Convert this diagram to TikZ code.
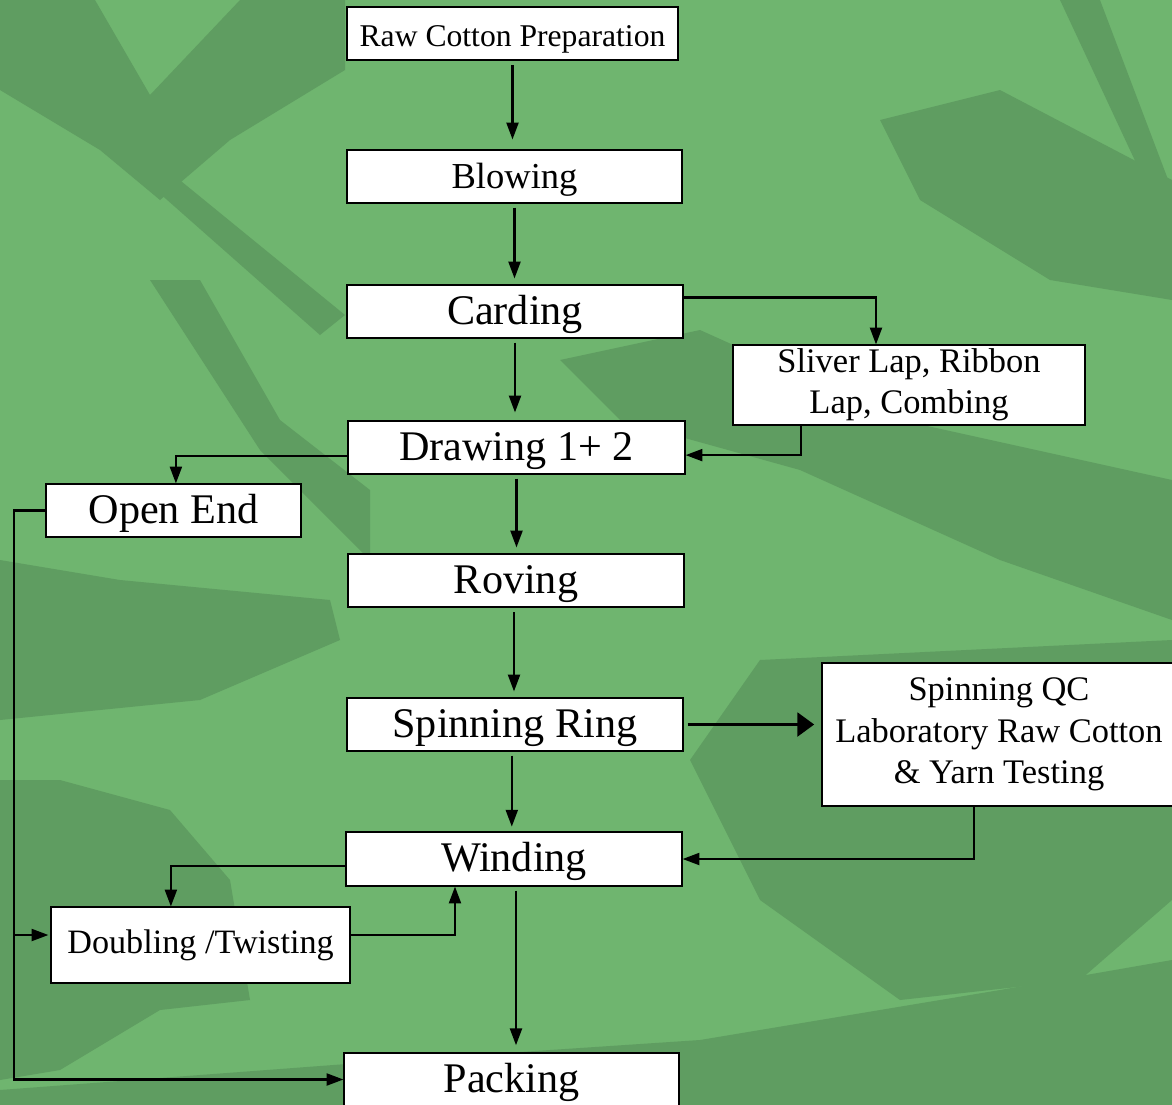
\documentclass[tikz,border=0pt]{standalone}
\usepackage{fontspec}
\setmainfont{Liberation Serif}
\usetikzlibrary{arrows.meta, positioning, calc}
\definecolor{leaflight}{RGB}{111,181,111}
\definecolor{leafdark}{RGB}{95,157,97}

\begin{document}
\begin{tikzpicture}[
		x=0.025cm, y=-0.025cm,
		stepbox/.style={draw=black, fill=white, line width=0.8pt, minimum height=1.325cm,
			minimum width=8.4cm, inner sep=0pt, text height=21pt, text depth=3pt,
			font=\fontsize{30}{36}\selectfont},
		sidebox/.style={draw=black, fill=white, line width=0.8pt, inner sep=0pt, align=center,
			font=\fontsize{24.5}{29.5}\selectfont},
		flow/.style={-{Triangle[length=0.42cm, width=0.3cm]}, line width=1.5pt},
		bigflow/.style={-{Triangle[length=0.42cm, width=0.6cm]}, line width=1.5pt},
		leaf/.style={fill=leafdark, draw=none}
		]
		
		% === BACKGROUND ===
		\useasboundingbox (0,0) rectangle (1172,1105);
		\fill[leaflight] (0,0) rectangle (1172,1105);
		\fill[leaf] (0,0) -- (95,0) -- (150,95) -- (240,0) -- (345,0) -- (345,70) -- (230,140)
		-- (160,200) -- (100,150) -- (0,90) -- cycle;
		\fill[leaf] (20,70) -- (45,70) -- (345,315) -- (320,335) -- cycle;
		\fill[leaf] (150,280) -- (200,280) -- (280,420) -- (370,490) -- (370,560) -- (260,450) -- cycle;
		\fill[leaf] (0,560) -- (120,580) -- (330,600) -- (340,640) -- (200,700) -- (0,720) -- cycle;
		\fill[leaf] (0,780) -- (60,780) -- (170,810) -- (230,880) -- (250,1000) -- (160,1010)
		-- (60,1070) -- (0,1080) -- cycle;
		\fill[leaf] (560,360) -- (700,330) -- (900,420) -- (1172,480) -- (1172,620) -- (1000,560)
		-- (800,470) -- (620,420) -- cycle;
		\fill[leaf] (880,120) -- (1000,90) -- (1172,180) -- (1172,300) -- (1050,280) -- (920,200) -- cycle;
		\fill[leaf] (1060,0) -- (1100,0) -- (1172,190) -- (1172,240) -- cycle;
		\fill[leaf] (690,760) -- (760,660) -- (1172,640) -- (1172,900) -- (1080,980) -- (900,1000)
		-- (760,900) -- cycle;
		\fill[leaf] (0,1090) -- (400,1060) -- (700,1040) -- (1000,990) -- (1172,960) -- (1172,1105)
		-- (0,1105) -- cycle;
		
		% === MAIN LINE ===
		\node[stepbox, minimum width=8.275cm, text height=19pt, text depth=0pt,
		font=\fontsize{22.5}{27}\selectfont] (raw) at (512.5,33.5) {Raw Cotton Preparation};
		\node[stepbox, minimum width=8.375cm, text height=18pt, text depth=1.6pt,
		font=\fontsize{26}{31}\selectfont] (blow) at (514.5,176.5) {Blowing};
		\node[stepbox] (card) at (515,311.5) {Carding};
		\node[stepbox, minimum width=8.425cm] (draw) at (516.5,447.5) {Drawing 1+ 2};
		\node[stepbox] (roving) at (516,580.5) {Roving};
		\node[stepbox] (spin) at (515,724.5) {Spinning Ring};
		\node[stepbox, minimum height=1.35cm] (wind) at (514,859) {Winding};
		\node[stepbox, minimum width=8.375cm] (pack) at (511.5,1079.5) {Packing};
		
		% === SIDE BOXES ===
		\node[sidebox, minimum width=8.8cm, minimum height=2cm] (sliver) at (909,385) {Sliver Lap, Ribbon\\Lap, Combing};
		\node[stepbox, minimum width=6.375cm] (open) at (173.5,510.5) {Open End};
		\node[sidebox, minimum width=8.85cm, minimum height=3.575cm] (qc) at (999,734.5) {Spinning QC\\Laboratory Raw Cotton\\\& Yarn Testing};
		\node[sidebox, minimum width=7.475cm, minimum height=1.9cm, font=\fontsize{24.3}{29}\selectfont] (dbl) at (200.5,945) {Doubling /Twisting};
		
		% === DOWNWARD FLOW ===
		\draw[flow, shorten <=0.12cm, shorten >=0.25cm] (raw.south) -- (raw.south |- blow.north);
		\draw[flow, shorten <=0.1cm, shorten >=0.15cm] (blow.south) -- (blow.south |- card.north);
		\draw[flow, shorten <=0.1cm, shorten >=0.2cm] (card.south) -- (card.south |- draw.north);
		\draw[flow, shorten <=0.1cm, shorten >=0.15cm] (draw.south) -- (draw.south |- roving.north);
		\draw[flow, shorten <=0.12cm, shorten >=0.15cm] ([xshift=-0.05cm]roving.south) -- ([xshift=-0.05cm]roving.south |- spin.north);
		\draw[flow, shorten <=0.1cm, shorten >=0.12cm] ([xshift=-0.08cm]spin.south) -- ([xshift=-0.08cm]spin.south |- wind.north);
		\draw[flow, shorten <=0.1cm, shorten >=0.18cm] ([xshift=0.05cm]wind.south) -- ([xshift=0.05cm]wind.south |- pack.north);
		
		% === BRANCHES ===
		\draw[flow] ([yshift=0.35cm]card.east) -| ([xshift=-0.825cm]sliver.north);
		\draw[flow] ([xshift=-2.7cm]sliver.south) |- ([yshift=-0.19cm]draw.east);
		\draw[flow] ([yshift=-0.21cm]draw.west) -| ([xshift=0.06cm]open.north);
		\draw[bigflow, shorten <=0.1cm, shorten >=0.18cm] (spin.east) -- (spin.east -| qc.west);
		\draw[flow] ([xshift=-0.625cm]qc.south) |- (wind.east);
		\draw[flow] ([yshift=-0.18cm]wind.west) -| ([xshift=-0.74cm]dbl.north);
		\draw[flow] ([yshift=0.25cm]dbl.east) -| ([xshift=-1.475cm]wind.south);
		
		% === OPEN END LOOP ===
		\coordinate (oeturn) at (14,510.5);
		\coordinate (split) at (14,935);
		\draw[flow] (open.west) -- (oeturn) |- (pack.west);
		\draw[flow, shorten >=0.05cm] (split) -- (split -| dbl.west);
		
	\end{tikzpicture}
\end{document}
